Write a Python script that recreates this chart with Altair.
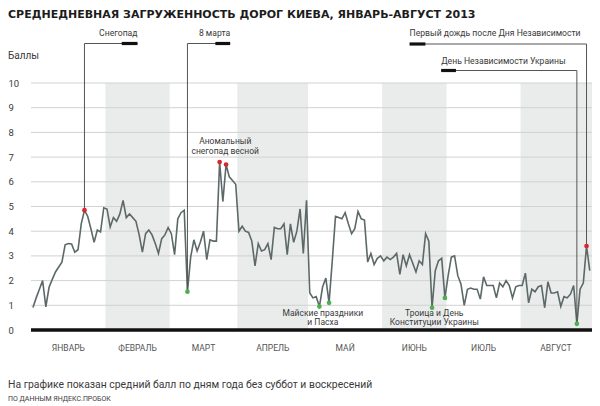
import altair as alt
import pandas as pd

TITLE = "СРЕДНЕДНЕВНАЯ ЗАГРУЖЕННОСТЬ ДОРОГ КИЕВА, ЯНВАРЬ-АВГУСТ 2013"
Y_TITLE = "Баллы"
NOTE = "На графике показан средний балл по дням года без суббот и воскресений"
SOURCE = "ПО ДАННЫМ ЯНДЕКС.ПРОБОК"
MONTHS = ["ЯНВАРЬ", "ФЕВРАЛЬ", "МАРТ", "АПРЕЛЬ", "МАЙ", "ИЮНЬ", "ИЮЛЬ", "АВГУСТ"]
SHADED_MONTHS = [2, 4, 6, 8]
Y_TICKS = [0, 1, 2, 3, 4, 5, 6, 7, 8, 9, 10]

# weekday scores, 1 Jan 2013 .. 30 Aug 2013 (weekends excluded)
SCORES = [
    0.91, 1.30, 1.65, 2.00, 0.94, 1.73, 2.05, 2.35, 2.55, 2.75,
    3.45, 3.50, 3.48, 3.15, 3.25, 4.30, 4.85, 4.60, 4.10, 3.55,
    4.05, 3.97, 4.95, 4.90, 4.17, 4.55, 4.40, 4.70, 5.25, 4.55,
    4.70, 4.55, 4.40, 3.85, 3.15, 3.90, 4.05, 3.85, 3.50, 3.10,
    3.70, 3.85, 4.15, 3.90, 3.05, 4.50, 4.75, 4.85, 1.55, 2.95,
    3.65, 3.20, 3.55, 4.00, 2.85, 3.65, 3.60, 3.60, 6.80, 5.20,
    6.70, 6.20, 6.05, 5.90, 4.00, 4.20, 4.00, 3.95, 3.60, 2.60,
    3.50, 3.20, 3.25, 3.50, 2.85, 4.15, 4.10, 4.10, 4.30, 3.05,
    4.30, 3.55, 4.00, 4.90, 3.10, 5.25, 1.50, 1.30, 1.35, 0.95,
    1.75, 2.10, 1.10, 2.80, 4.60, 4.55, 4.50, 4.75, 4.30, 3.90,
    4.10, 4.80, 4.50, 4.45, 2.75, 3.10, 2.65, 2.90, 3.00, 2.80,
    2.95, 2.85, 2.95, 3.10, 2.25, 3.05, 2.60, 3.05, 2.70, 2.35,
    2.80, 2.65, 3.90, 3.60, 0.90, 2.40, 2.80, 2.90, 1.30, 2.20,
    2.95, 3.00, 2.20, 1.85, 1.00, 1.65, 1.70, 1.65, 1.65, 1.25,
    2.15, 1.80, 1.80, 1.80, 1.30, 1.90, 1.75, 2.00, 1.80, 1.30,
    1.75, 1.80, 1.80, 2.30, 1.10, 1.65, 1.55, 1.75, 1.80, 0.90,
    1.95, 1.50, 1.50, 1.55, 0.95, 1.35, 1.30, 1.45, 1.80, 0.25,
    1.65, 1.90, 3.40, 2.40,
]
RED_DAYS = ["2013-01-23", "2013-03-22", "2013-03-26", "2013-08-29"]
GREEN_DAYS = ["2013-03-08", "2013-05-06", "2013-05-09", "2013-06-24", "2013-06-28", "2013-08-26"]

dates = pd.bdate_range("2013-01-01", "2013-08-30")
df = pd.DataFrame({"date": dates, "i": range(len(dates)), "v": SCORES})
df["m"] = df["date"].dt.month
pos = {d.strftime("%Y-%m-%d"): k for k, d in enumerate(dates)}

red = df.iloc[[pos[d] for d in RED_DAYS]]
green = df.iloc[[pos[d] for d in GREEN_DAYS]]

mg = df.groupby("m")["i"].agg(["min", "max"]).reset_index()
mg["name"] = MONTHS
mg["c"] = (mg["min"] + mg["max"]) / 2
mg["a"] = mg["min"] - 0.5
mg["b"] = mg["max"] + 0.5
XMIN, XMAX = -0.61, 173.7
mg.loc[mg["m"] == 8, "b"] = XMAX
bands = mg[mg["m"].isin(SHADED_MONTHS)]

PADL = 23
W, H = 561, 247
K = W / 569.0


def px(xref):
    """reference-page x -> plot-relative x"""
    return (xref - 31) * K


GREY = "#3a3a3a"
LINE = "#5d6968"
FONT = "Roboto"

xs = alt.Scale(domain=[XMIN, XMAX], nice=False, zero=False)
ys = alt.Scale(domain=[0, 10], nice=False)
YAX = alt.Axis(
    values=Y_TICKS, title=None, grid=False, ticks=False, domain=False,
    labelAlign="left", labelPadding=PADL, labelFontSize=9.5, labelColor=GREY,
    labelFont=FONT, labelOverlap=False, labelFlush=False, labelBaseline="middle",
)


def X(f):
    return alt.X(f, type="quantitative", scale=xs, axis=None)


def Y(f):
    return alt.Y(f, type="quantitative", scale=ys, axis=YAX)


band_layer = alt.Chart(bands).mark_rect(color="#e9ecea").encode(
    x=X("a"), x2="b", y=alt.value(0), y2=alt.value(H)
)

grid = alt.Chart(pd.DataFrame({"g": Y_TICKS[1:]})).mark_rule(
    color="#d2d2d2", strokeWidth=1
).encode(y=Y("g"), x=alt.value(0), x2=alt.value(W))

baseline = alt.Chart(pd.DataFrame({"g": [0]})).mark_rule(color="#111", strokeWidth=3.5).encode(
    y=Y("g"), x=alt.value(0), x2=alt.value(W)
)

line = alt.Chart(df).mark_line(color=LINE, strokeWidth=1.6).encode(x=X("i"), y=Y("v"))

# annotation connectors: day, text, bar-left, bar-right (reference x), line y, text y, align
ANN = [
    ("2013-01-23", "Снегопад", 123, 139, -39.5, -50, "right"),
    ("2013-03-08", "8 марта", 218, 233, -39.5, -50, "right"),
    ("2013-08-29", "Первый дождь после Дня Независимости", 415, 431, -39, -50, "left"),
    ("2013-08-26", "День Независимости Украины", 447, 462, -12.5, -22, "left"),
]
layers = [band_layer, grid, baseline, line]
for day, text, b0, b1, yl, yt, al in ANN:
    row = df.iloc[[pos[day]]]
    b0, b1 = px(b0), px(b1)
    layers.append(alt.Chart(row).mark_rule(color="#555", strokeWidth=1).encode(
        x=X("i"), y=Y("v"), y2=alt.value(yl)))
    far = b1 if al == "right" else b0
    layers.append(alt.Chart(row).mark_rule(color="#555", strokeWidth=1).encode(
        x=X("i"), x2=alt.value(far), y=alt.value(yl)))
    layers.append(alt.Chart(row).mark_rule(color="#111", strokeWidth=3.2).encode(
        x=alt.value(b0), x2=alt.value(b1), y=alt.value(yl)))
    layers.append(alt.Chart(row).mark_text(
        text=text, align=al, baseline="middle", fontSize=8.6, color=GREY, font=FONT
    ).encode(x=alt.value(b1 if al == "right" else b0), y=alt.value(yt)))

layers.append(alt.Chart(red).mark_circle(color="#d8262c", opacity=1, size=22).encode(
    x=X("i"), y=Y("v")))
layers.append(alt.Chart(green).mark_circle(color="#4cb050", opacity=1, size=22).encode(
    x=X("i"), y=Y("v")))

INPLOT = [
    ("Аномальный", 228, 58), ("снегопад весной", 228, 67.5),
    ("Майские праздники", 327, 229.5), ("и Пасха", 327, 238.5),
    ("Троица и День", 440, 229.5), ("Конституции Украины", 440, 238.5),
]
for t, xr, py in INPLOT:
    layers.append(alt.Chart(pd.DataFrame({"t": [t]})).mark_text(
        align="center", baseline="middle", fontSize=8.5, color=GREY, font=FONT
    ).encode(text="t:N", x=alt.value(px(xr)), y=alt.value(py)))

months = alt.Chart(mg).mark_text(
    baseline="middle", align="center", fontSize=8.5, color="#555", font=FONT
).encode(x=X("c"), y=alt.value(265), text="name:N")
layers.append(months)


def label(t, py, size, weight="normal", color=GREY, font=FONT, baseline="middle"):
    return alt.Chart(pd.DataFrame({"t": [t]})).mark_text(
        align="left", baseline=baseline, fontSize=size, fontWeight=weight, color=color, font=font
    ).encode(text="t:N", x=alt.value(-PADL), y=alt.value(py))


layers.append(label(TITLE, -74, 11, "bold", "#1c1c1c", "DejaVu Sans", "top"))
layers.append(label(Y_TITLE, -27, 10))
layers.append(label(NOTE, 302, 10.4))
layers.append(label(SOURCE, 315.5, 7))

chart = alt.layer(*layers).properties(
    width=W, height=H,
    padding={"left": PADL, "top": 75, "right": 0, "bottom": 76},
    autosize=alt.AutoSizeParams(type="none"),
).configure_view(stroke=None)

chart.save("out.html", embed_options={"renderer": "svg", "actions": False})
